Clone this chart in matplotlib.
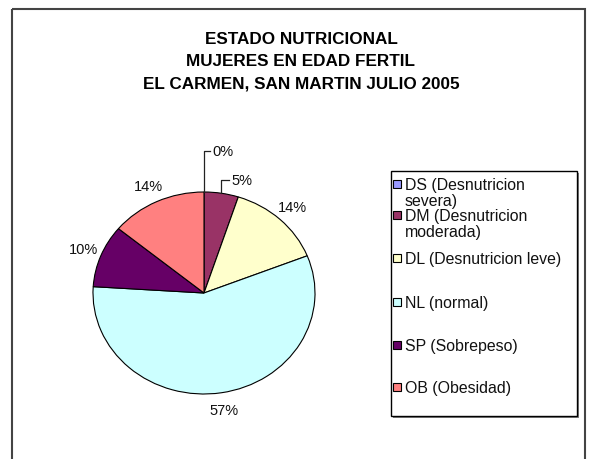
import numpy as np
import matplotlib
matplotlib.use("Agg")
import matplotlib.pyplot as plt
from matplotlib.patches import Rectangle

plt.rcParams['font.family'] = ['Liberation Sans', 'DejaVu Sans']

# datos del grafico
titulo = "ESTADO NUTRICIONAL\nMUJERES EN EDAD FERTIL\nEL CARMEN, SAN MARTIN JULIO 2005"
categorias = ["DS (Desnutricion\nsevera)", "DM (Desnutricion\nmoderada)",
              "DL (Desnutricion leve)", "NL (normal)", "SP (Sobrepeso)", "OB (Obesidad)"]
porcentajes = [0, 5, 14, 57, 10, 14]
colores = ["#9999FF", "#993366", "#FFFFCC", "#CCFFFF", "#660066", "#FF8080"]

# disposicion (en pixeles de la imagen)
W, H = 589, 460
CX, CY, RX, RY = 204, 294, 111, 101     # centro y radios del pastel
leyenda_y = [185, 216, 259, 303, 346, 388]
guia_y = {0: 152, 1: 181}                # lineas guia de las etiquetas chicas
guia_dx = {0: 6, 1: 8}

fig = plt.figure(figsize=(W / 100, H / 100), dpi=100)
fig.patch.set_facecolor('white')

# capa en pixeles: marco, titulo y leyenda
capa = fig.add_axes([0, 0, 1, 1])
capa.set_xlim(0, W)
capa.set_ylim(H, 0)
capa.axis('off')

# marco exterior
capa.add_patch(Rectangle((12, 10), 573, 470, fill=False, edgecolor='#444444', linewidth=1.5))

capa.text(301, 62, titulo, ha='center', va='center', fontsize=12.3, fontweight='bold',
          linespacing=1.6)

# leyenda
capa.add_patch(Rectangle((393, 174), 186, 245, facecolor='#808080', edgecolor='none', zorder=1))
capa.add_patch(Rectangle((391, 172), 186, 245, facecolor='white', edgecolor='black',
                         linewidth=1, zorder=2))
for nombre, col, y in zip(categorias, colores, leyenda_y):
    capa.add_patch(Rectangle((393, y - 4), 8, 8, facecolor=col, edgecolor='black',
                             linewidth=0.8, zorder=3))
    capa.text(405, y - 7, nombre, ha='left', va='top', fontsize=11.4, color='#111111',
              linespacing=1.1, zorder=3)

# pastel
ax = fig.add_axes([0, 0, 1, 1])
cunas, _ = ax.pie(porcentajes, colors=colores, startangle=90, counterclock=False,
                  wedgeprops=dict(edgecolor='black', linewidth=0.8))
ax.set_aspect('auto')
ax.set_xlim(-CX / RX, (W - CX) / RX)
ax.set_ylim((CY - H) / RY, CY / RY)
ax.axis('off')

for i, (c, v) in enumerate(zip(cunas, porcentajes)):
    ang = np.deg2rad((c.theta1 + c.theta2) / 2)
    etiqueta = f"{v}%"
    if i in guia_y:
        x0, y0 = np.cos(ang), np.sin(ang)
        ytop = (CY - guia_y[i]) / RY
        x1 = x0 + guia_dx[i] / RX
        ax.plot([x0, x0, x1], [y0, ytop, ytop], color='#222222', linewidth=0.9)
        ax.text(x1 + 2 / RX, ytop, etiqueta, ha='left', va='center', fontsize=10.5, color='#111111')
    else:
        r = 1.17
        ax.text(r * np.cos(ang), r * np.sin(ang), etiqueta, ha='center', va='center',
                fontsize=10.5, color='#111111')

fig.savefig("out.png", dpi=100)
